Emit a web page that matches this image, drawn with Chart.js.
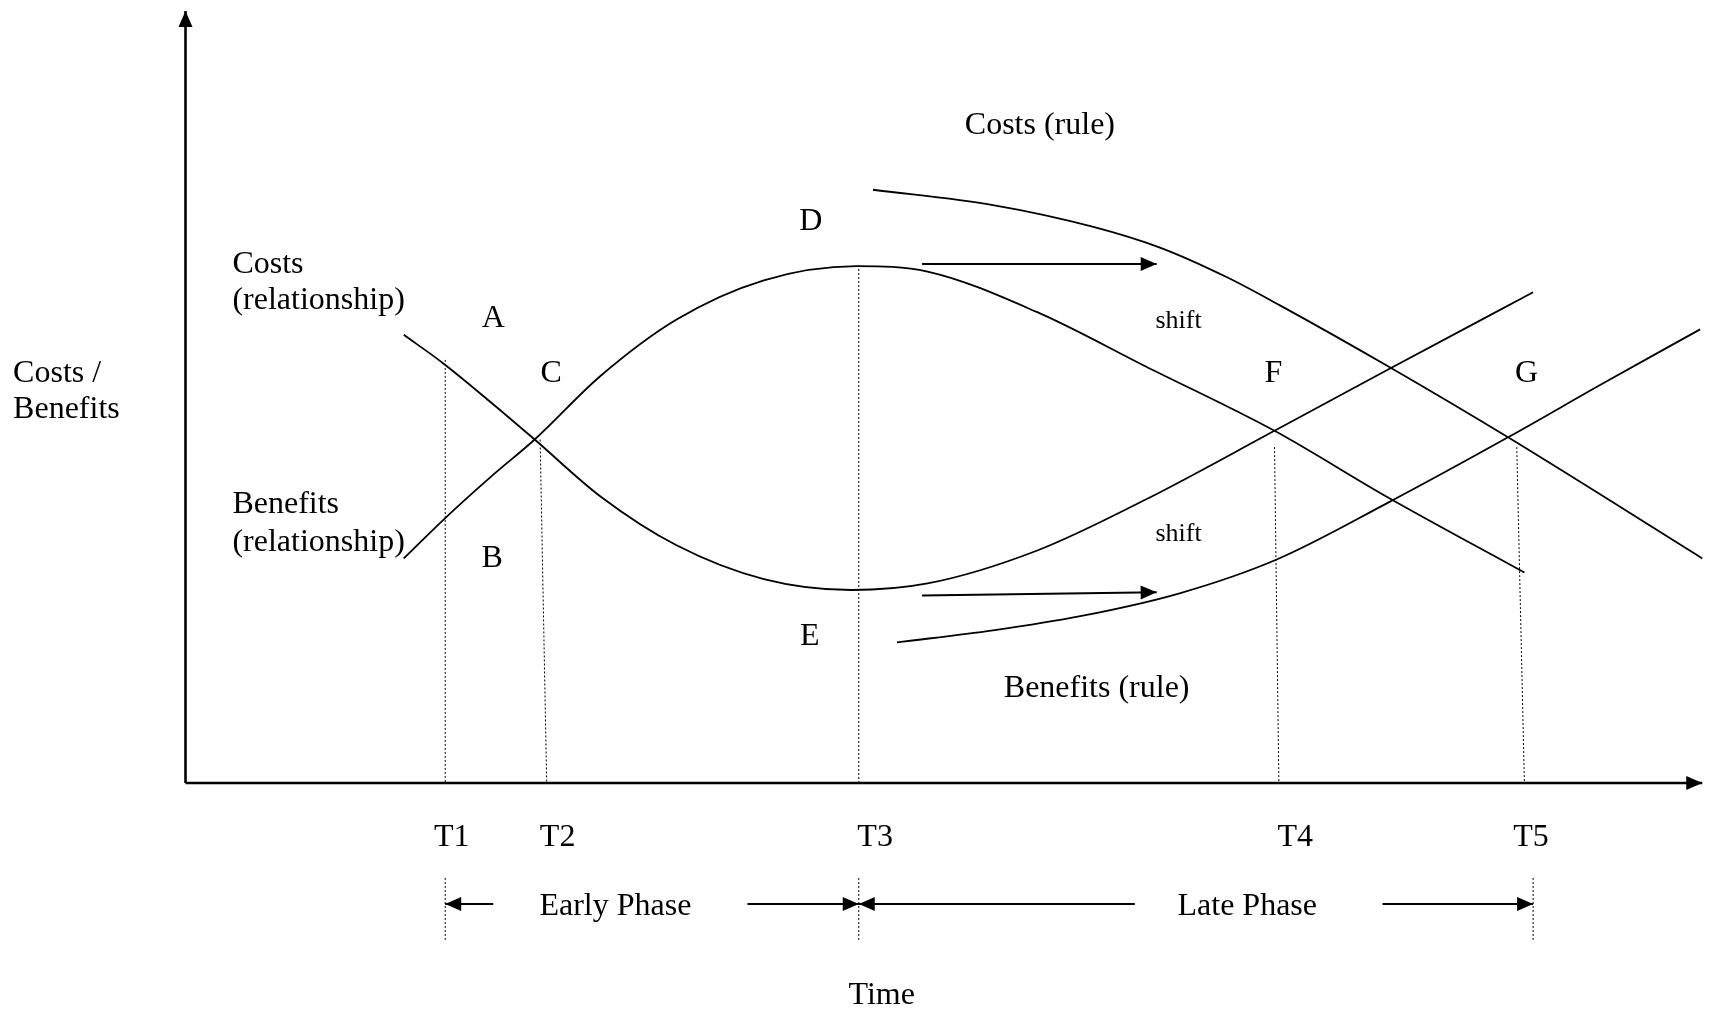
<!doctype html>
<html lang="en">
<head>
<meta charset="utf-8">
<title>Costs / Benefits over Time</title>
<script src="https://cdn.jsdelivr.net/npm/chart.js"></script>
<style>
  html, body { margin: 0; padding: 0; background: #fff; }
  #wrap { width: 1711px; height: 1011px; }
</style>
</head>
<body>
<div id="wrap"><canvas id="phaseChart" width="1711" height="1011"></canvas></div>
<script>
  // curves, [time, level]
  var costsRelationship = [[20.0, 41.1], [23.6, 38.5], [28.0, 34.9], [32.0, 31.5], [38.0, 26.3], [45.0, 21.8],
    [53.0, 18.7], [61.0, 17.7], [68.0, 18.3], [78.0, 21.3], [88.0, 26.0], [99.8, 32.3], [110.0, 37.8], [123.5, 45.0]];
  var benefitsRelationship = [[20.0, 20.6], [23.8, 24.3], [28.0, 28.1], [32.0, 31.5], [38.0, 37.3], [45.0, 42.5],
    [53.0, 46.1], [61.5, 47.4], [68.0, 46.9], [78.0, 43.2], [88.0, 38.2], [99.8, 32.3], [110.0, 26.3], [122.7, 19.3]];
  var costsRule = [[63.0, 54.4], [74.0, 53.0], [83.2, 51.0], [89.3, 49.1], [95.4, 46.4], [100.3, 43.8],
    [110.4, 38.1], [121.2, 31.7], [139.0, 20.6]];
  var benefitsRule = [[65.2, 12.9], [74.0, 14.0], [82.0, 15.3], [91.1, 17.4], [100.0, 20.5], [110.0, 25.6],
    [121.2, 31.7], [130.0, 36.7], [138.8, 41.6]];

  // dotted drop lines at T1..T5 [xTop, yTop, xBottom]
  var timeNames = ["T1", "T2", "T3", "T4", "T5"];
  var timeGuides = [[23.8, 38.8, 23.8], [32.5, 31.5, 33.1], [61.7, 47.5, 61.7], [99.8, 30.8, 100.2], [122.0, 30.8, 122.7]];
  var phaseMarks = [23.8, 61.7, 123.5];

  // arrows [x0, y0, x1, y1], head at the second point
  var axisArrows = [[0, 0, 139, 0], [0, 0, 0, 70.8]];
  var shiftArrows = [[67.5, 47.6, 89.0, 47.6], [67.5, 17.2, 89.0, 17.5]];
  var phaseArrows = [[28.2, -11.1, 23.8, -11.1], [51.5, -11.1, 61.7, -11.1], [87.0, -11.1, 61.7, -11.1], [109.7, -11.1, 123.5, -11.1]];

  // text [label, x, y, align, size]
  var notes = [
    ["Costs /", -15.8, 37.7, "left", 32], ["Benefits", -15.8, 34.4, "left", 32],
    ["Costs", 4.3, 47.7, "left", 32], ["(relationship)", 4.3, 44.4, "left", 32],
    ["Benefits", 4.3, 25.7, "left", 32], ["(relationship)", 4.3, 22.2, "left", 32],
    ["A", 28.2, 42.8, "center", 32], ["B", 28.1, 20.8, "center", 32], ["C", 33.5, 37.7, "center", 32],
    ["D", 57.3, 51.7, "center", 32], ["E", 57.2, 13.6, "center", 32],
    ["F", 99.7, 37.7, "center", 32], ["G", 122.9, 37.7, "center", 32],
    ["Costs (rule)", 78.3, 60.5, "center", 32], ["Benefits (rule)", 83.5, 8.8, "center", 32],
    ["shift", 91.0, 42.5, "center", 26], ["shift", 91.0, 23.0, "center", 26],
    ["T1", 24.4, -4.8, "center", 32], ["T2", 34.1, -4.8, "center", 32], ["T3", 63.2, -4.8, "center", 32],
    ["T4", 101.7, -4.8, "center", 32], ["T5", 123.3, -4.8, "center", 32],
    ["Early Phase", 39.4, -11.1, "center", 32], ["Late Phase", 97.3, -11.1, "center", 32],
    ["Time", 63.8, -19.3, "center", 32]
  ];

  function pts(arr) {
    return arr.map(function (p) { return { x: p[0], y: p[1] }; });
  }

  function lineSet(data, width, dash, smooth) {
    return {
      data: data,
      showLine: true,
      borderColor: "#000",
      borderWidth: width,
      borderDash: dash || [],
      cubicInterpolationMode: smooth ? "monotone" : "default",
      tension: 0,
      pointRadius: 0,
      pointHoverRadius: 0,
      fill: false
    };
  }

  var datasets = [];
  [costsRelationship, benefitsRelationship, costsRule, benefitsRule].forEach(function (c) {
    datasets.push(lineSet(pts(c), 1.8, null, true));
  });
  timeGuides.forEach(function (g) {
    datasets.push(lineSet([{ x: g[0], y: g[1] }, { x: g[2], y: 0 }], 1, [2, 2]));
  });
  phaseMarks.forEach(function (m) {
    datasets.push(lineSet([{ x: m, y: -8.7 }, { x: m, y: -14.4 }], 1, [2, 2]));
  });
  axisArrows.forEach(function (a) {
    datasets.push(lineSet([{ x: a[0], y: a[1] }, { x: a[2], y: a[3] }], 2.6));
  });
  shiftArrows.concat(phaseArrows).forEach(function (a) {
    datasets.push(lineSet([{ x: a[0], y: a[1] }, { x: a[2], y: a[3] }], 2));
  });

  const overlay = {
    id: "overlay",
    afterDatasetsDraw(chart) {
      const ctx = chart.ctx;
      const xs = chart.scales.x, ys = chart.scales.y;
      ctx.save();
      ctx.fillStyle = "#000";

      // arrow heads
      axisArrows.concat(shiftArrows, phaseArrows).forEach(function (a) {
        const x0 = xs.getPixelForValue(a[0]), y0 = ys.getPixelForValue(a[1]);
        const x1 = xs.getPixelForValue(a[2]), y1 = ys.getPixelForValue(a[3]);
        const ang = Math.atan2(y1 - y0, x1 - x0);
        const len = 16, half = 7;
        const c = Math.cos(ang), s = Math.sin(ang);
        ctx.beginPath();
        ctx.moveTo(x1, y1);
        ctx.lineTo(x1 - len * c - half * s, y1 - len * s + half * c);
        ctx.lineTo(x1 - len * c + half * s, y1 - len * s - half * c);
        ctx.closePath();
        ctx.fill();
      });

      // text
      ctx.textBaseline = "middle";
      notes.forEach(function (n) {
        ctx.font = n[4] + "px 'Liberation Serif', 'Times New Roman', serif";
        ctx.textAlign = n[3];
        ctx.fillText(n[0], xs.getPixelForValue(n[1]), ys.getPixelForValue(n[2]) + 2);
      });
      ctx.restore();
    }
  };

  new Chart(document.getElementById("phaseChart").getContext("2d"), {
    type: "scatter",
    data: { datasets: datasets },
    options: {
      responsive: false,
      animation: false,
      events: [],
      layout: { padding: 0 },
      plugins: { legend: { display: false }, tooltip: { enabled: false } },
      scales: {
        x: { type: "linear", min: -17, max: 139.8, display: false },
        y: { type: "linear", min: -20.9, max: 71.8, display: false }
      }
    },
    plugins: [overlay]
  });
</script>
</body>
</html>
